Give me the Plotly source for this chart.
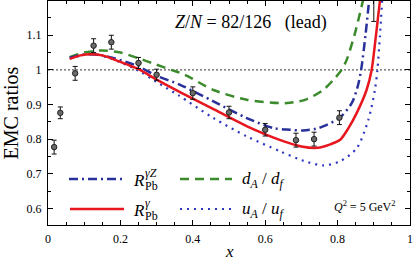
import plotly.graph_objects as go

# ---------------- data ----------------
# experimental EMC ratios (lead)
data_x = [0.017, 0.034, 0.075, 0.126, 0.175, 0.25, 0.30, 0.40, 0.50, 0.60, 0.685, 0.735, 0.805, 0.90]
data_y = [0.777, 0.876, 0.99, 1.07, 1.08, 1.02, 0.986, 0.933, 0.877, 0.827, 0.797, 0.80, 0.862, 1.23]
data_err = [0.02, 0.017, 0.02, 0.02, 0.02, 0.016, 0.016, 0.018, 0.018, 0.018, 0.02, 0.02, 0.02, 0.09]

# R^gamma_Pb (solid red)
rg_x = [0.06, 0.09, 0.12, 0.15, 0.185, 0.22, 0.25, 0.30, 0.37, 0.46, 0.55, 0.64, 0.70, 0.745, 0.78, 0.807, 0.83, 0.853, 0.88, 0.894, 0.906, 0.917]
rg_y = [1.032, 1.042, 1.045, 1.042, 1.029, 1.015, 1.002, 0.972, 0.933, 0.885, 0.837, 0.798, 0.779, 0.775, 0.785, 0.798, 0.832, 0.876, 0.942, 1.0, 1.1, 1.2]

# R^gammaZ_Pb (dash-dot blue)
rgz_x = [0.06, 0.09, 0.12, 0.15, 0.185, 0.25, 0.30, 0.365, 0.457, 0.549, 0.622, 0.668, 0.705, 0.74, 0.76, 0.805, 0.839, 0.855, 0.865, 0.877, 0.887]
rgz_y = [1.035, 1.043, 1.045, 1.042, 1.033, 1.01, 0.983, 0.957, 0.909, 0.861, 0.832, 0.827, 0.825, 0.83, 0.837, 0.861, 0.904, 0.95, 1.0, 1.1, 1.2]

# d_A/d_f (dashed green)
dd_x = [0.06, 0.10, 0.147, 0.20, 0.249, 0.30, 0.34, 0.378, 0.457, 0.549, 0.641, 0.668, 0.714, 0.76, 0.788, 0.811, 0.825, 0.848, 0.87]
dd_y = [1.037, 1.05, 1.056, 1.05, 1.034, 1.015, 1.0, 0.986, 0.942, 0.914, 0.904, 0.905, 0.915, 0.942, 0.971, 1.0, 1.029, 1.106, 1.2]

# u_A/u_f (dotted blue)
uu_x = [0.06, 0.10, 0.13, 0.18, 0.25, 0.30, 0.36, 0.457, 0.549, 0.641, 0.691, 0.71, 0.76, 0.807, 0.853, 0.885, 0.903, 0.91, 0.917, 0.923]
uu_y = [1.033, 1.043, 1.045, 1.03, 0.998, 0.965, 0.927, 0.861, 0.808, 0.765, 0.743, 0.736, 0.724, 0.736, 0.774, 0.856, 0.942, 1.0, 1.1, 1.2]

x_ticks = [0, 0.2, 0.4, 0.6, 0.8, 1]
x_labels = ["0", "0.2", "0.4", "0.6", "0.8", "1"]
y_ticks = [0.6, 0.7, 0.8, 0.9, 1.0, 1.1]
y_labels = ["0.6", "0.7", "0.8", "0.9", "1", "1.1"]

RED = "#e8161e"
BLUE = "#28309a"
DOTBLUE = "#2d38bf"
GREEN = "#3b8a2c"
FONT = "Liberation Serif"

fig = go.Figure()

fig.add_trace(go.Scatter(x=dd_x, y=dd_y, mode="lines", name="d_A/d_f",
                         line=dict(color=GREEN, width=2.5, dash="9px,6px", shape="spline", smoothing=0.8)))
fig.add_trace(go.Scatter(x=uu_x, y=uu_y, mode="lines", name="u_A/u_f",
                         line=dict(color=DOTBLUE, width=2.2, dash="2px,5px", shape="spline", smoothing=0.8)))
fig.add_trace(go.Scatter(x=rgz_x, y=rgz_y, mode="lines", name="R^γZ_Pb",
                         line=dict(color=BLUE, width=2.5, dash="9px,4px,2px,4px", shape="spline", smoothing=0.8)))
fig.add_trace(go.Scatter(x=rg_x, y=rg_y, mode="lines", name="R^γ_Pb",
                         line=dict(color=RED, width=2.5, shape="spline", smoothing=0.8)))
fig.add_trace(go.Scatter(x=data_x, y=data_y, mode="markers", name="data",
                         marker=dict(size=5.5, color="#6a6a6a", line=dict(color="#222", width=1)),
                         error_y=dict(type="data", array=data_err, color="#111", thickness=1, width=2.5)))

# reference line at unity
fig.add_shape(type="line", xref="paper", x0=0, x1=1, yref="y", y0=1, y1=1,
              line=dict(color="#333", width=1, dash="2px,2px"), layer="below")

# ---------- manual legend ----------
def px2paper_x(px):
    return (px - 48) / 362.0

def px2paper_y(py):
    return (225 - py) / 224.0

leg = [
    (69, 125, 179, BLUE, 2.5, "9px,4px,2px,4px"),
    (70, 124, 209, RED, 2.5, "solid"),
    (180, 232, 179, GREEN, 2.5, "9px,6px"),
    (180, 232, 209, DOTBLUE, 2.2, "2px,5px"),
]
for x0, x1, yy, c, w, d in leg:
    fig.add_shape(type="line", xref="paper", yref="paper",
                  x0=px2paper_x(x0), x1=px2paper_x(x1), y0=px2paper_y(yy), y1=px2paper_y(yy),
                  line=dict(color=c, width=w, dash=d))

def ann(text, px, py, size, anchor="left"):
    fig.add_annotation(text=text, xref="paper", yref="paper",
                       x=px2paper_x(px), y=px2paper_y(py), xanchor=anchor, yanchor="middle",
                       showarrow=False, font=dict(family=FONT, size=size, color="black"))

ann("<i>R</i>", 131, 180, 17)
ann("<i>γZ</i>", 143, 173, 12)
ann("Pb", 143, 186, 12)
ann("<i>R</i>", 131, 210, 17)
ann("<i>γ</i>", 143, 203, 12)
ann("Pb", 143, 216, 12)
ann("<i>d</i><sub><i>A</i></sub> / <i>d</i><sub><i>f</i></sub>", 240, 180, 17)
ann("<i>u</i><sub><i>A</i></sub> / <i>u</i><sub><i>f</i></sub>", 240, 210, 17)
ann("<i>Z</i>/<i>N</i> = 82/126\u00a0\u00a0\u00a0(lead)", 251, 22, 18, anchor="center")
ann("<i>Q</i><sup>2</sup> = 5 GeV<sup>2</sup>", 364, 206, 12, anchor="center")
# x-axis title
ann("<i>x</i>", 229, 251, 17, anchor="center")

axis_common = dict(showline=True, linecolor="black", linewidth=1, mirror="ticks",
                   ticks="inside", ticklen=5, tickcolor="black", tickwidth=1,
                   showgrid=False, zeroline=False, ticklabeloverflow="allow",
                   tickfont=dict(family=FONT, size=12, color="black"))

fig.update_xaxes(range=[0, 1], tickmode="array", tickvals=x_ticks, ticktext=x_labels,
                 minor=dict(ticks="inside", ticklen=3, tickmode="linear", tick0=0, dtick=0.05, tickcolor="black"),
                 ticklabelstandoff=3,
                 **axis_common)
fig.update_yaxes(range=[0.552, 1.199], tickmode="array", tickvals=y_ticks, ticktext=y_labels,
                 minor=dict(ticks="inside", ticklen=3, tickmode="linear", tick0=0, dtick=0.05, tickcolor="black"),
                 title=dict(text="EMC ratios", font=dict(family=FONT, size=20, color="black"), standoff=6),
                 ticklabelstandoff=3,
                 **axis_common)

fig.update_layout(width=415, height=261, margin=dict(l=48, r=5, t=1, b=36),
                  paper_bgcolor="white", plot_bgcolor="white", showlegend=False)

fig.write_html("out.html", config={"displayModeBar": False},
               post_script="document.body.style.margin='0px';document.body.style.overflow='hidden';")
